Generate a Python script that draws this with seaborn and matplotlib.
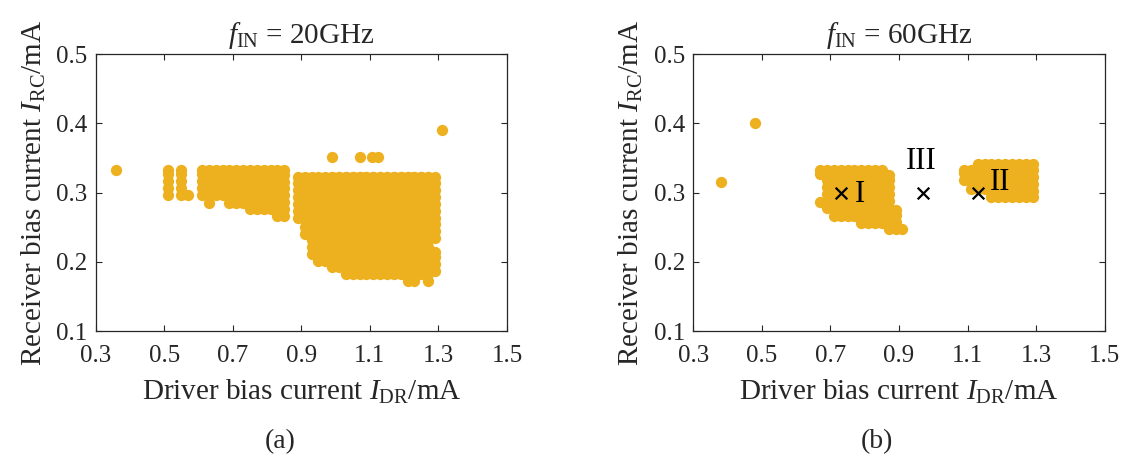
import numpy as np
import pandas as pd
import matplotlib
matplotlib.use("Agg")
import matplotlib.pyplot as plt
import seaborn as sns

# ---------------- data ----------------
# Panel (a), f_IN = 20 GHz: for each driver-current column I_DR (mA),
# the span of receiver currents I_RC (mA) that work.
a_idr = [0.36, 0.51, 0.55, 0.57, 0.61, 0.63, 0.65, 0.67, 0.69, 0.71, 0.73,
         0.75, 0.77, 0.79, 0.81, 0.83, 0.85,
         0.89, 0.91, 0.93, 0.95, 0.97, 0.99, 1.01, 1.03, 1.05, 1.07, 1.09,
         1.11, 1.13, 1.15, 1.17, 1.19, 1.21, 1.23, 1.25, 1.27, 1.29, 1.29,
         0.99, 1.07, 1.105, 1.125, 1.31]
a_irc_lo = [0.333, 0.297, 0.297, 0.297, 0.297, 0.285, 0.297, 0.297, 0.285, 0.285, 0.285,
            0.276, 0.276, 0.276, 0.276, 0.266, 0.266,
            0.264, 0.240, 0.211, 0.201, 0.201, 0.192, 0.192, 0.182, 0.182, 0.182, 0.182,
            0.182, 0.182, 0.182, 0.182, 0.182, 0.172, 0.172, 0.182, 0.172, 0.187, 0.234,
            0.352, 0.352, 0.352, 0.352, 0.390]
a_irc_hi = [0.333, 0.333, 0.333, 0.297, 0.333, 0.333, 0.333, 0.333, 0.333, 0.333, 0.333,
            0.333, 0.333, 0.333, 0.333, 0.333, 0.333,
            0.323, 0.323, 0.323, 0.323, 0.323, 0.323, 0.323, 0.323, 0.323, 0.323, 0.323,
            0.323, 0.323, 0.323, 0.323, 0.323, 0.323, 0.323, 0.323, 0.323, 0.214, 0.323,
            0.352, 0.352, 0.352, 0.352, 0.390]

# Panel (b), f_IN = 60 GHz
b_idr = [0.38, 0.48, 0.67, 0.67, 0.69, 0.71, 0.73, 0.75, 0.77, 0.79, 0.81, 0.83,
         0.85, 0.87, 0.89, 0.91,
         1.09, 1.11, 1.13, 1.15, 1.17, 1.19, 1.21, 1.23, 1.25, 1.27, 1.29]
b_irc_lo = [0.315, 0.400, 0.327, 0.287, 0.278, 0.266, 0.266, 0.266, 0.266, 0.256, 0.256, 0.256,
            0.256, 0.248, 0.248, 0.248,
            0.318, 0.305, 0.305, 0.305, 0.293, 0.293, 0.293, 0.293, 0.293, 0.293, 0.293]
b_irc_hi = [0.315, 0.400, 0.333, 0.287, 0.333, 0.333, 0.333, 0.333, 0.333, 0.333, 0.333, 0.333,
            0.333, 0.325, 0.275, 0.248,
            0.333, 0.333, 0.341, 0.341, 0.341, 0.341, 0.341, 0.341, 0.341, 0.341, 0.341]

irc_step = 0.01   # receiver-current sweep step

# Marked operating points in panel (b)
mark_idr = [0.73, 0.97, 1.13]
mark_irc = [0.30, 0.30, 0.30]
mark_text = ["I", "III", "II"]
text_idr = [0.786, 0.966, 1.194]
text_irc = [0.298, 0.345, 0.315]

titles = [r"$f_{\mathrm{IN}}$ = 20GHz", r"$f_{\mathrm{IN}}$ = 60GHz"]
captions = ["(a)", "(b)"]
xticks = [0.3, 0.5, 0.7, 0.9, 1.1, 1.3, 1.5]
yticks = [0.1, 0.2, 0.3, 0.4, 0.5]


def expand(cols, lo, hi, step):
    xs, ys = [], []
    for c, l, h in zip(cols, lo, hi):
        vals = list(np.arange(l, h - 1e-9, step)) + [h]
        xs += [c] * len(vals)
        ys += vals
    return pd.DataFrame({"IDR": xs, "IRC": ys})


df_a = expand(a_idr, a_irc_lo, a_irc_hi, irc_step)
df_b = expand(b_idr, b_irc_lo, b_irc_hi, irc_step)
df_m = pd.DataFrame({"IDR": mark_idr, "IRC": mark_irc})

# ---------------- style ----------------
sns.set_style("ticks")
plt.rcParams["font.family"] = ["Liberation Serif", "DejaVu Serif"]
plt.rcParams["mathtext.fontset"] = "custom"
plt.rcParams["mathtext.rm"] = "Liberation Serif"
plt.rcParams["mathtext.it"] = "Liberation Serif:italic"
plt.rcParams["mathtext.bf"] = "Liberation Serif:bold"

W, H = 1125, 468
fig = plt.figure(figsize=(W / 100, H / 100), dpi=100)
ax_a = fig.add_axes([95.7 / W, 1 - 331 / H, 411.3 / W, 276.7 / H])
ax_b = fig.add_axes([693.3 / W, 1 - 331 / H, 411.3 / W, 276.7 / H])

dot_color = "#EDB120"
txt_color = "#262626"
fs_tick = 18
fs_lab = 21

for ax, df, title in [(ax_a, df_a, titles[0]), (ax_b, df_b, titles[1])]:
    sns.scatterplot(data=df, x="IDR", y="IRC", ax=ax, color=dot_color,
                    s=66, linewidth=0, legend=False, zorder=2)
    ax.set_xlim(0.3, 1.5)
    ax.set_ylim(0.1, 0.5)
    ax.set_xticks(xticks)
    ax.set_yticks(yticks)
    ax.set_xticklabels([f"{v:.1f}" for v in xticks])
    ax.set_yticklabels([f"{v:.1f}" for v in yticks])
    ax.tick_params(direction="in", top=True, right=True, length=4,
                   width=0.8, labelsize=fs_tick, color=txt_color)
    ax.tick_params(axis="x", pad=10)
    ax.tick_params(axis="y", pad=6)
    for sp in ax.spines.values():
        sp.set_visible(True)
        sp.set_linewidth(0.9)
        sp.set_color(txt_color)
    ax.set_xlabel(r"Driver bias current $I_{\mathrm{DR}}$/mA", fontsize=fs_lab,
                  color=txt_color, labelpad=8)
    ax.set_ylabel(r"Receiver bias current $I_{\mathrm{RC}}$/mA", fontsize=fs_lab,
                  color=txt_color, labelpad=6)
    ax.set_title(title, fontsize=fs_lab, color=txt_color, pad=8)

sns.scatterplot(data=df_m, x="IDR", y="IRC", ax=ax_b, marker="x", color="black",
                s=70, linewidth=1.6, legend=False, zorder=3)
for tx, ty, t in zip(text_idr, text_irc, mark_text):
    ax_b.text(tx, ty, t, fontsize=22, ha="center", va="center", color="black", zorder=4)

fig.text(280 / W, 1 - 442 / H, captions[0], fontsize=20, ha="center", va="center", color=txt_color)
fig.text(877 / W, 1 - 442 / H, captions[1], fontsize=20, ha="center", va="center", color=txt_color)

fig.savefig("out.png", dpi=100)
